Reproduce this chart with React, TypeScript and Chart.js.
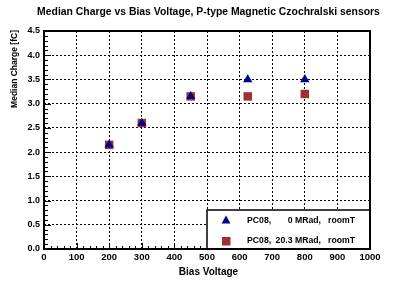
import { useEffect, useRef } from "react";
import { Chart, registerables } from "chart.js";

Chart.register(...registerables);

const chartTitle = "Median Charge vs Bias Voltage, P-type Magnetic Czochralski sensors";
const xTitle = "Bias Voltage";
const yTitle = "Median Charge [fC]";

const xTickValues = [0, 100, 200, 300, 400, 500, 600, 700, 800, 900, 1000];
const yTickValues = [0, 0.5, 1.0, 1.5, 2.0, 2.5, 3.0, 3.5, 4.0, 4.5];

const seriesLabels = ["PC08,      0 MRad,    roomT", "PC08, 20.3 MRad,    roomT"];
const biasVoltage0 = [200, 300, 450, 625, 800];
const charge0 = [2.15, 2.6, 3.15, 3.5, 3.5];
const biasVoltage1 = [200, 300, 450, 625, 800];
const charge1 = [2.15, 2.6, 3.15, 3.15, 3.2];

const FONT = "'Liberation Sans', Arial, sans-serif";
const BLUE = "#00008f";
const RED = "#a03030";

const decor = {
  id: "decor",
  beforeDatasetsDraw(chart: any) {
    const ctx = chart.ctx;
    const a = chart.chartArea;
    const xs = chart.scales.x;
    const ys = chart.scales.y;
    ctx.save();
    ctx.strokeStyle = "#000";
    ctx.lineWidth = 1;
    ctx.beginPath();
    for (let v = 0; v <= 1000; v += 20) {
      const px = Math.round(xs.getPixelForValue(v)) + 0.5;
      const len = v % 100 === 0 ? 6 : 3;
      ctx.moveTo(px, a.bottom);
      ctx.lineTo(px, a.bottom - len);
    }
    for (let i = 0; i <= 45; i++) {
      const v = i / 10;
      const py = Math.round(ys.getPixelForValue(v)) + 0.5;
      const len = i % 5 === 0 ? 7 : 4;
      ctx.moveTo(a.left, py);
      ctx.lineTo(a.left + len, py);
    }
    ctx.stroke();
    ctx.restore();
  },
  afterDraw(chart: any) {
    const ctx = chart.ctx;
    const a = chart.chartArea;
    ctx.save();
    // legend box
    const lx = 207, ly = 210;
    ctx.fillStyle = "#fff";
    ctx.fillRect(lx, ly, a.right - lx, a.bottom - ly);
    ctx.strokeStyle = "#000";
    ctx.lineWidth = 1.5;
    ctx.strokeRect(lx, ly, a.right - lx, a.bottom - ly);
    // legend markers
    const rows = [220.5, 241];
    ctx.fillStyle = BLUE;
    ctx.beginPath();
    ctx.moveTo(226, rows[0] - 5);
    ctx.lineTo(230.5, rows[0] + 3);
    ctx.lineTo(221.5, rows[0] + 3);
    ctx.closePath();
    ctx.fill();
    ctx.fillStyle = RED;
    ctx.fillRect(222, rows[1] - 4, 8.5, 8.5);
    // legend text
    ctx.fillStyle = "#000";
    ctx.font = `bold 8.7px ${FONT}`;
    ctx.textBaseline = "middle";
    seriesLabels.forEach((lab, i) => {
      const parts = lab.split(",").map((s) => s.trim());
      ctx.textAlign = "left";
      ctx.fillText(parts[0] + ",", 247, rows[i]);
      ctx.textAlign = "right";
      ctx.fillText(parts[1] + ",", 321, rows[i]);
      ctx.textAlign = "left";
      ctx.fillText(parts[2], 328, rows[i]);
    });
    // frame
    ctx.lineWidth = 2;
    ctx.strokeStyle = "#000";
    ctx.strokeRect(a.left, a.top, a.right - a.left, a.bottom - a.top);
    // titles
    ctx.fillStyle = "#000";
    ctx.textAlign = "center";
    ctx.textBaseline = "middle";
    ctx.font = `bold 10.4px ${FONT}`;
    ctx.fillText(chartTitle, 208.5, 12);
    ctx.font = `bold 10px ${FONT}`;
    ctx.fillText(xTitle, 208.5, 272);
    ctx.translate(15, 30);
    ctx.rotate(-Math.PI / 2);
    ctx.textAlign = "right";
    ctx.font = `bold 8.5px ${FONT}`;
    ctx.fillText(yTitle, 0, 0);
    ctx.restore();
  },
};

export default function App() {
  const ref = useRef<HTMLCanvasElement>(null);
  useEffect(() => {
    if (!ref.current) return;
    const chart = new Chart(ref.current, {
      type: "scatter",
      data: {
        datasets: [
          {
            label: seriesLabels[0],
            data: biasVoltage0.map((x, i) => ({ x, y: charge0[i] })),
            pointStyle: "triangle",
            pointRadius: 5.4,
            backgroundColor: BLUE,
            borderColor: BLUE,
            borderWidth: 0,
          },
          {
            label: seriesLabels[1],
            data: biasVoltage1.map((x, i) => ({ x, y: charge1[i] })),
            pointStyle: "rect",
            pointRadius: 6,
            backgroundColor: RED,
            borderColor: RED,
            borderWidth: 0,
          },
        ],
      },
      options: {
        responsive: false,
        animation: false,
        devicePixelRatio: 1,
        layout: { padding: { top: 31, right: 45, left: 0, bottom: 0 } },
        plugins: {
          legend: { display: false },
          title: { display: false },
          tooltip: { enabled: false },
        },
        scales: {
          x: {
            type: "linear",
            min: 0,
            max: 1000,
            afterBuildTicks: (s: any) => {
              s.ticks = xTickValues.map((v) => ({ value: v }));
            },
            afterFit: (s: any) => {
              s.height = 32;
            },
            ticks: {
              color: "#000",
              font: { family: FONT, size: 9.5, weight: "bold" },
              padding: 3,
              maxRotation: 0,
              autoSkip: false,
              callback: (v: any) => String(v),
            },
            grid: { color: "#000", lineWidth: 1, drawTicks: false },
            border: { display: false, dash: [2, 2] },
          },
          y: {
            type: "linear",
            min: 0,
            max: 4.5,
            afterBuildTicks: (s: any) => {
              s.ticks = yTickValues.map((v) => ({ value: v }));
            },
            afterFit: (s: any) => {
              s.width = 44;
            },
            ticks: {
              color: "#000",
              font: { family: FONT, size: 9, weight: "bold" },
              padding: 4,
              autoSkip: false,
              callback: (v: any) => Number(v).toFixed(1),
            },
            grid: { color: "#000", lineWidth: 1, drawTicks: false },
            border: { display: false, dash: [2, 2] },
          },
        },
      },
      plugins: [decor],
    } as any);
    return () => chart.destroy();
  }, []);
  return (
    <div style={{ position: "absolute", left: 0, top: 0, width: 415, height: 281, background: "#fff" }}>
      <canvas ref={ref} width={415} height={281} />
    </div>
  );
}
